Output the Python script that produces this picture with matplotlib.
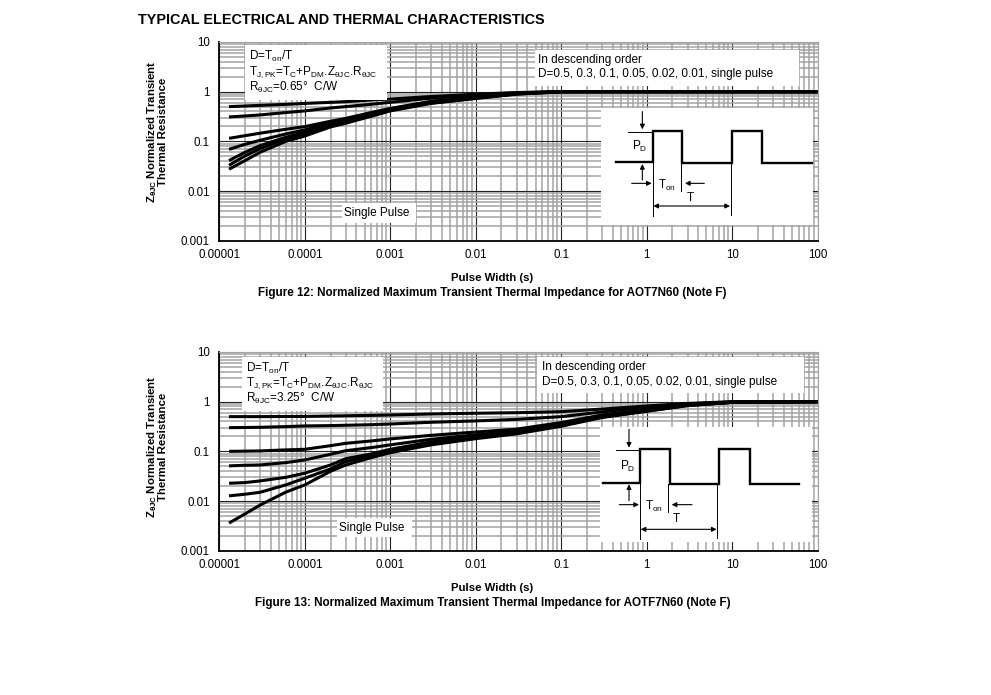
import matplotlib

matplotlib.use("Agg")
import matplotlib.pyplot as plt
import numpy as np
from matplotlib.ticker import LogLocator, NullFormatter

plt.rcParams["font.family"] = ["Liberation Sans", "DejaVu Sans"]
plt.rcParams["mathtext.fontset"] = "custom"
plt.rcParams["mathtext.rm"] = "Liberation Sans"
plt.rcParams["mathtext.it"] = "Liberation Sans"
plt.rcParams["mathtext.bf"] = "Liberation Sans:bold"
plt.rcParams["mathtext.default"] = "regular"

W, H = 991, 695

pulse_width = [1.3e-5, 2e-5, 3e-5, 6e-5, 1e-4, 2e-4, 3e-4, 6e-4, 1e-3,
               3e-3, 1e-2, 3e-2, 1e-1, 3e-1, 1, 3, 10, 100]
tick_x = [1e-5, 1e-4, 1e-3, 1e-2, 1e-1, 1, 10, 100]
tick_x_labels = ["0.00001", "0.0001", "0.001", "0.01", "0.1", "1", "10", "100"]
tick_y = [1e-3, 1e-2, 1e-1, 1, 10]
tick_y_labels = ["0.001", "0.01", "0.1", "1", "10"]

# Figure 12, D = 0.5, 0.3, 0.1, 0.05, 0.02, 0.01, single pulse
fig12_d50 = [0.50, 0.515, 0.53, 0.555, 0.58, 0.61, 0.63, 0.68, 0.71,
             0.80, 0.89, 0.96, 1.0, 1.0, 1.0, 1.0, 1.0, 1.0]
fig12_d30 = [0.31, 0.324, 0.34, 0.38, 0.41, 0.47, 0.50, 0.557, 0.61,
             0.74, 0.85, 0.95, 1.0, 1.0, 1.0, 1.0, 1.0, 1.0]
fig12_d10 = [0.115, 0.13, 0.146, 0.175, 0.198, 0.254, 0.29, 0.38, 0.46,
             0.64, 0.79, 0.93, 1.0, 1.0, 1.0, 1.0, 1.0, 1.0]
fig12_d05 = [0.069, 0.0873, 0.105, 0.141, 0.17, 0.238, 0.278, 0.373, 0.45,
             0.62, 0.77, 0.92, 1.0, 1.0, 1.0, 1.0, 1.0, 1.0]
fig12_d02 = [0.041, 0.0603, 0.082, 0.121, 0.152, 0.224, 0.262, 0.357, 0.44,
             0.60, 0.75, 0.91, 1.0, 1.0, 1.0, 1.0, 1.0, 1.0]
fig12_d01 = [0.033, 0.0509, 0.0714, 0.112, 0.141, 0.211, 0.25, 0.34, 0.425,
             0.59, 0.74, 0.90, 1.0, 1.0, 1.0, 1.0, 1.0, 1.0]
fig12_single = [0.0275, 0.041, 0.0603, 0.10, 0.128, 0.195, 0.231, 0.32, 0.41,
                0.58, 0.73, 0.89, 0.99, 1.0, 1.0, 1.0, 1.0, 1.0]

# Figure 13, same order
fig13_d50 = [0.50, 0.50, 0.50, 0.503, 0.505, 0.515, 0.52, 0.53, 0.54,
             0.565, 0.585, 0.60, 0.63, 0.71, 0.82, 0.92, 1.0, 1.0]
fig13_d30 = [0.30, 0.302, 0.305, 0.315, 0.325, 0.33, 0.335, 0.344, 0.355,
             0.385, 0.41, 0.44, 0.50, 0.62, 0.78, 0.90, 0.99, 1.0]
fig13_d10 = [0.10, 0.101, 0.102, 0.107, 0.11, 0.13, 0.145, 0.162, 0.178,
             0.21, 0.245, 0.28, 0.38, 0.54, 0.70, 0.87, 0.98, 1.0]
fig13_d05 = [0.051, 0.0525, 0.0532, 0.0593, 0.0671, 0.0873, 0.103, 0.119, 0.135,
             0.175, 0.215, 0.26, 0.36, 0.52, 0.68, 0.86, 0.98, 1.0]
fig13_d02 = [0.0228, 0.0235, 0.0254, 0.030, 0.0363, 0.0532, 0.071, 0.0887, 0.11,
             0.155, 0.20, 0.245, 0.34, 0.50, 0.66, 0.85, 0.97, 1.0]
fig13_d01 = [0.0127, 0.0137, 0.015, 0.0211, 0.0288, 0.0443, 0.062, 0.082, 0.103,
             0.145, 0.19, 0.235, 0.33, 0.49, 0.65, 0.84, 0.97, 1.0]
fig13_single = [0.0036, 0.0055, 0.0083, 0.0151, 0.0211, 0.0397, 0.053, 0.0748, 0.094,
                0.135, 0.18, 0.225, 0.32, 0.48, 0.64, 0.83, 0.97, 1.0]

fig12_curves = [fig12_d50, fig12_d30, fig12_d10, fig12_d05, fig12_d02, fig12_d01, fig12_single]
fig13_curves = [fig13_d50, fig13_d30, fig13_d10, fig13_d05, fig13_d02, fig13_d01, fig13_single]

GRAY = "#a3a3a3"


def add_axes_px(fig, left, top, right, bottom):
    return fig.add_axes([left / W, 1 - bottom / H, (right - left) / W, (bottom - top) / H])


def draw_chart(ax, curves):
    ax.set_xscale("log")
    ax.set_yscale("log")
    ax.set_xlim(1e-5, 100)
    ax.set_ylim(1e-3, 10)
    ax.set_xticks(tick_x, tick_x_labels)
    ax.set_yticks(tick_y, tick_y_labels)
    for axis in (ax.xaxis, ax.yaxis):
        axis.set_minor_locator(LogLocator(base=10, subs=np.arange(2, 10), numticks=20))
        axis.set_minor_formatter(NullFormatter())
    ax.tick_params(which="both", length=0)
    ax.tick_params(axis="x", labelsize=8.3, pad=6)
    ax.tick_params(axis="y", labelsize=8.3, pad=7)
    ax.grid(True, which="minor", color=GRAY, lw=1.1)
    ax.grid(True, which="major", color="#222222", lw=0.8)
    ax.set_axisbelow(True)
    for side in ("left", "bottom"):
        ax.spines[side].set_linewidth(1.3)
    for side in ("top", "right"):
        ax.spines[side].set_color(GRAY)
    for vals in curves:
        ax.plot(pulse_width, vals, color="k", lw=2.2, solid_capstyle="butt", clip_on=False)


def white_box(ov, x0, y0, x1, y1):
    ov.fill([x0, x1, x1, x0], [y0, y0, y1, y1], color="white", lw=0, zorder=1)


def arrow(ov, start, end, x0, y0, style="-|>"):
    ov.annotate("", xy=(x0 + end[0] / 3, y0 + end[1] / 3), xytext=(x0 + start[0] / 3, y0 + start[1] / 3),
                arrowprops=dict(arrowstyle=style, color="k", lw=0.8, shrinkA=0, shrinkB=0,
                                mutation_scale=7), zorder=3)


def draw_pulse_diagram(ov, x0, y0, px, py, thin, arrows, labels):
    # coordinates are in 3x zoom pixels relative to (x0, y0)
    ov.plot(x0 + np.array(px) / 3, y0 + np.array(py) / 3, color="k", lw=1.7, zorder=3,
            solid_joinstyle="miter")
    for (xa, ya, xb, yb) in thin:
        ov.plot([x0 + xa / 3, x0 + xb / 3], [y0 + ya / 3, y0 + yb / 3], color="k", lw=0.7, zorder=3)
    for start, end, style in arrows:
        arrow(ov, start, end, x0, y0, style)
    for (xa, ya, s) in labels:
        ov.text(x0 + xa / 3, y0 + ya / 3, s, ha="center", va="center", fontsize=8.5, zorder=4)


fig = plt.figure(figsize=(W / 100, H / 100), dpi=100)
ax12 = add_axes_px(fig, 219.3, 42, 817.7, 240.7)
ax13 = add_axes_px(fig, 219.3, 352, 817.7, 550.7)
draw_chart(ax12, fig12_curves)
draw_chart(ax13, fig13_curves)

# overlay in image pixels for the white boxes, notes and pulse sketches
ov = fig.add_axes([0, 0, 1, 1], facecolor="none")
ov.set_xlim(0, W)
ov.set_ylim(H, 0)
ov.axis("off")

white_box(ov, 245, 45, 387, 100)
white_box(ov, 535, 50, 799, 86)
white_box(ov, 601, 108, 813, 225)
white_box(ov, 342, 203, 416, 223)
white_box(ov, 242, 357, 383, 411)
white_box(ov, 537, 357, 804, 393)
white_box(ov, 600, 427, 812, 542)
white_box(ov, 337, 518, 412, 537)

note_kw = dict(ha="left", va="center", fontsize=8.5, zorder=4)
ov.text(249, 56, r"D=T$_{on}$/T", **note_kw)
ov.text(249, 72, r"T$_{J,PK}$=T$_{C}$+P$_{DM}$.Z$_{θJC}$.R$_{θJC}$", **note_kw)
ov.text(249, 87.5, r"R$_{θJC}$=0.65°  C/W", **note_kw)
ov.text(538, 60, "In descending order", **note_kw)
ov.text(538, 74, "D=0.5, 0.3, 0.1, 0.05, 0.02, 0.01, single pulse", **note_kw)
ov.text(377, 213, "Single Pulse", ha="center", va="center", fontsize=8.5, zorder=4)

ov.text(246, 368, r"D=T$_{on}$/T", **note_kw)
ov.text(246, 383, r"T$_{J,PK}$=T$_{C}$+P$_{DM}$.Z$_{θJC}$.R$_{θJC}$", **note_kw)
ov.text(246, 398, r"R$_{θJC}$=3.25°  C/W", **note_kw)
ov.text(542, 367, "In descending order", **note_kw)
ov.text(542, 382, "D=0.5, 0.3, 0.1, 0.05, 0.02, 0.01, single pulse", **note_kw)
ov.text(372, 528, "Single Pulse", ha="center", va="center", fontsize=8.5, zorder=4)

draw_pulse_diagram(
    ov, 520, 30,
    [288, 398, 398, 487, 487, 637, 637, 727, 727, 875],
    [397, 397, 303, 303, 400, 400, 303, 303, 400, 400],
    [(325, 305, 398, 305), (398, 400, 398, 558), (484, 400, 484, 482), (632, 400, 632, 555)],
    [((367, 245), (367, 298), "-|>"), ((367, 450), (367, 402), "-|>"),
     ((335, 460), (395, 460), "-|>"), ((553, 460), (495, 460), "-|>"),
     ((400, 528), (630, 528), "<|-|>")],
    [(360, 350, r"P$_{D}$"), (440, 465, r"T$_{on}$"), (510, 503, "T")],
)
draw_pulse_diagram(
    ov, 520, 340,
    [248, 360, 360, 450, 450, 597, 597, 690, 690, 836],
    [428, 428, 327, 327, 433, 433, 327, 327, 433, 433],
    [(287, 330, 360, 330), (359, 433, 359, 598), (445, 433, 445, 517), (592, 433, 592, 595)],
    [((327, 268), (327, 323), "-|>"), ((327, 482), (327, 433), "-|>"),
     ((298, 494), (357, 494), "-|>"), ((516, 494), (455, 494), "-|>"),
     ((362, 568), (590, 568), "<|-|>")],
    [(323, 380, r"P$_{D}$"), (403, 500, r"T$_{on}$"), (470, 538, "T")],
)

bold_kw = dict(ha="center", va="center", fontsize=8.4, fontweight="bold")
label_kw = dict(ha="center", va="center", fontsize=8.2, fontweight="bold")
ylabel = "Z$_{\\mathbf{θJC}}$ Normalized Transient\nThermal Resistance"
ov.text(156.5, 132, ylabel, rotation=90, linespacing=0.95, multialignment="center", **label_kw)
ov.text(156.5, 447, ylabel, rotation=90, linespacing=0.95, multialignment="center", **label_kw)
ov.text(492, 278, "Pulse Width (s)", **label_kw)
ov.text(492.5, 293, "Figure 12: Normalized Maximum Transient Thermal Impedance for AOT7N60 (Note F)", **bold_kw)
ov.text(492, 588, "Pulse Width (s)", **label_kw)
ov.text(492.5, 603, "Figure 13: Normalized Maximum Transient Thermal Impedance for AOTF7N60 (Note F)", **bold_kw)
ov.text(138, 20.5, "TYPICAL ELECTRICAL AND THERMAL CHARACTERISTICS", ha="left", va="center",
        fontsize=10.38, fontweight="bold")

fig.savefig("out.png", dpi=100)
